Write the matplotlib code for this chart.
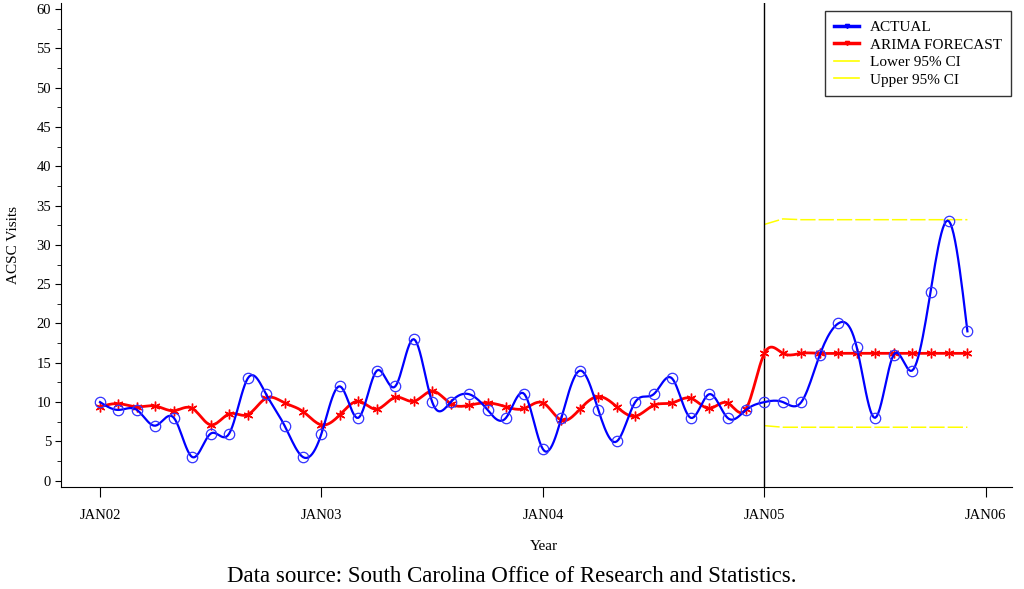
import numpy as np
import matplotlib
matplotlib.use("Agg")
import matplotlib.pyplot as plt
from matplotlib.lines import Line2D

# monthly ACSC visits, Jan 2002 - Dec 2005
actual = [10, 9, 9, 7, 8, 3, 6, 6, 13, 11, 7, 3,
          6, 12, 8, 14, 12, 18, 10, 10, 11, 9, 8, 11,
          4, 8, 14, 9, 5, 10, 11, 13, 8, 11, 8, 9,
          10, 10, 10, 16, 20, 17, 8, 16, 14, 24, 33, 19]
forecast = [9.4, 9.8, 9.4, 9.5, 8.9, 9.2, 7.1, 8.5, 8.4, 10.5, 9.9, 8.8,
            7.1, 8.4, 10.1, 9.1, 10.6, 10.1, 11.4, 9.8, 9.6, 9.9, 9.4, 9.2,
            9.9, 7.7, 9.1, 10.7, 9.4, 8.2, 9.6, 9.9, 10.5, 9.2, 9.9, 9.1,
            16.2, 16.2, 16.2, 16.2, 16.2, 16.2, 16.2, 16.2, 16.2, 16.2, 16.2, 16.2]
lower_ci = [7.0, 6.8, 6.8, 6.8, 6.8, 6.8, 6.8, 6.8, 6.8, 6.8, 6.8, 6.8]
upper_ci = [32.6, 33.3, 33.2, 33.2, 33.2, 33.2, 33.2, 33.2, 33.2, 33.2, 33.2, 33.2]
year_ticks = [0, 12, 24, 36, 48]
year_labels = ["JAN02", "JAN03", "JAN04", "JAN05", "JAN06"]
forecast_start = 36


def spline(y, n=12):
    # natural cubic spline through equally spaced points (like SAS interpol=spline)
    y = np.asarray(y, float)
    m = len(y)
    A = np.zeros((m, m))
    r = np.zeros(m)
    A[0, 0] = A[-1, -1] = 1
    for i in range(1, m - 1):
        A[i, i - 1], A[i, i], A[i, i + 1] = 1, 4, 1
        r[i] = 6 * (y[i + 1] - 2 * y[i] + y[i - 1])
    M = np.linalg.solve(A, r)
    xs, ys = [], []
    for i in range(m - 1):
        t = np.linspace(0, 1, n, endpoint=False)
        s = (M[i] * (1 - t) ** 3 / 6 + M[i + 1] * t ** 3 / 6
             + (y[i] - M[i] / 6) * (1 - t) + (y[i + 1] - M[i + 1] / 6) * t)
        xs.extend(i + t)
        ys.extend(s)
    xs.append(m - 1)
    ys.append(y[-1])
    return np.array(xs), np.array(ys)


plt.rcParams['font.family'] = ['Liberation Serif', 'DejaVu Serif']

fig = plt.figure(figsize=(10.24, 5.89), dpi=100)
ax = fig.add_axes([0.0593, 0.1732, 0.9287, 0.8222])

months = np.arange(len(actual))
fc_months = np.arange(forecast_start, forecast_start + len(lower_ci))

sx, sy = spline(actual)
ax.plot(sx, sy, color='#0000ff', lw=1.6, zorder=4)
ax.plot(months, actual, ls='none', marker='o', ms=7.5, mfc='none', mec='#3333ff', mew=0.9, zorder=5)

fx, fy = spline(forecast)
ax.plot(fx, fy, color='#ff0000', lw=2, zorder=3)
ax.plot(months, forecast, ls='none', marker=(6, 2, 0), ms=7, mec='#ff0000', mew=1, zorder=3)

ax.plot(fc_months, lower_ci, color='#ffff00', lw=1.1, dashes=(10, 2))
ax.plot(fc_months, upper_ci, color='#ffff00', lw=1.1, dashes=(10, 2))

ax.axvline(forecast_start, color='black', lw=1, zorder=2)

ax.set_xlim(-2.13, 49.4)
ax.set_ylim(-0.8, 60.8)
ax.set_xticks(year_ticks)
ax.set_xticklabels(year_labels)
ax.set_yticks(np.arange(0, 61, 5))
ax.set_yticks(np.arange(2.5, 60, 5), minor=True)
ax.spines['top'].set_visible(False)
ax.spines['right'].set_visible(False)
ax.tick_params(axis='x', length=7, pad=9, labelsize=10.5)
ax.tick_params(axis='y', length=4, pad=3, labelsize=10.5)
ax.tick_params(axis='y', which='minor', length=3)

ax.set_xlabel('Year', fontsize=11)
ax.xaxis.set_label_coords(0.508, -0.11)
ax.set_ylabel('ACSC Visits', fontsize=11)
ax.yaxis.set_label_coords(-0.043, 0.5)

handles = [
    Line2D([], [], color='#0000ff', lw=2.5, marker='v', ms=3),
    Line2D([], [], color='#ff0000', lw=2.5, marker='v', ms=3),
    Line2D([], [], color='#ffff00', lw=1.2),
    Line2D([], [], color='#ffff00', lw=1.2),
]
leg = ax.legend(handles, ['ACTUAL', 'ARIMA FORECAST', 'Lower 95% CI', 'Upper 95% CI'],
                loc='upper right', bbox_to_anchor=(1.007, 0.998), fontsize=11,
                frameon=True, fancybox=False, edgecolor='black', handlelength=1.6,
                handletextpad=0.7, labelspacing=0.25, borderpad=0.6)
leg.get_frame().set_linewidth(1)

fig.text(0.5, 0.004, 'Data source: South Carolina Office of Research and Statistics.',
         ha='center', va='bottom', fontsize=16.5)

fig.savefig('out.png', dpi=100)
